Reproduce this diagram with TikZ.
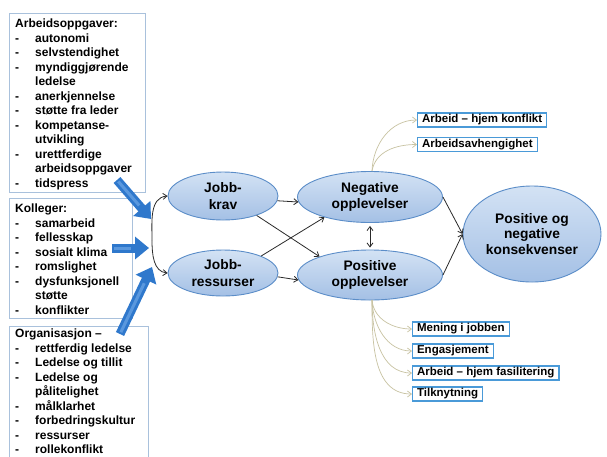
\documentclass[tikz,border=0pt]{standalone}
\usepackage{fontspec}
\setmainfont{Liberation Sans}
\usetikzlibrary{shapes.geometric,arrows.meta}
\definecolor{ellfillA}{HTML}{D3E2F4}
\definecolor{ellfillB}{HTML}{A4C0E5}
\definecolor{elldraw}{HTML}{5B8DC8}
\definecolor{boxdraw}{HTML}{A9C1DC}
\definecolor{rboxdraw}{HTML}{4A9AD8}
\definecolor{bluearrow}{HTML}{2F78CC}
\definecolor{bluearrowlight}{HTML}{5A98DE}
\definecolor{beigeline}{HTML}{C8C3A2}
\definecolor{darkline}{HTML}{2A2A2A}
\begin{document}
\begin{tikzpicture}[x=1pt,y=-1pt,
  ell/.style={ellipse, draw=elldraw, line width=0.9pt, top color=ellfillA, bottom color=ellfillB,
    inner sep=0pt, align=center, font=\fontsize{13.8}{16.5}\selectfont\bfseries},
  lbox/.style={draw=boxdraw, line width=0.9pt, anchor=north west, inner sep=0pt},
  ltext/.style={anchor=north west, inner sep=0pt, font=\fontsize{12}{14.5}\selectfont\bfseries},
  rbox/.style={draw=rboxdraw, line width=1.1pt, anchor=west, inner xsep=4.5pt, inner ysep=0pt,
    minimum height=14pt, font=\fontsize{11.5}{13}\selectfont\bfseries},
  conn/.style={draw=darkline, line width=0.8pt, -{Straight Barb[length=4pt,width=6pt]}},
  biconn/.style={draw=darkline, line width=0.8pt, {Straight Barb[length=4pt,width=6pt]}-{Straight Barb[length=4pt,width=6pt]}},
  soft/.style={draw=beigeline, line width=0.7pt, -{Straight Barb[length=4pt,width=6pt]}},
  bigarrow/.style={draw=bluearrow, line width=9pt, -{Triangle[length=14pt,width=22pt]}},
  bighl/.style={draw=bluearrowlight, line width=3pt},
]
\clip (0,0) rectangle (607,456);
\fill[white] (0,0) rectangle (607,456);

% left boxes
\node[lbox, minimum width=136pt, minimum height=179pt] (b1) at (9,13) {};
\node[lbox, minimum width=123pt, minimum height=120pt] (b2) at (9,198) {};
\node[lbox, minimum width=139pt, minimum height=150pt] (b3) at (9,326) {};

\node[ltext] (t1) at (15,17.5) {\begin{tabular}{@{}p{20pt}@{}l@{}}
\multicolumn{2}{@{}l@{}}{Arbeidsoppgaver:}\\
- & autonomi\\
- & selvstendighet\\
- & myndiggjørende\\
  & ledelse\\
- & anerkjennelse\\
- & støtte fra leder\\
- & kompetanse-\\
  & utvikling\\
- & urettferdige\\
  & arbeidsoppgaver\\
- & tidspress
\end{tabular}};

\node[ltext] (t2) at (15,202.5) {\begin{tabular}{@{}p{20pt}@{}l@{}}
\multicolumn{2}{@{}l@{}}{Kolleger:}\\
- & samarbeid\\
- & fellesskap\\
- & sosialt klima\\
- & romslighet\\
- & dysfunksjonell\\
  & støtte\\
- & konflikter
\end{tabular}};

\node[ltext] (t3) at (15,327.5) {\begin{tabular}{@{}p{20pt}@{}l@{}}
\multicolumn{2}{@{}l@{}}{Organisasjon --}\\
- & rettferdig ledelse\\
- & Ledelse og tillit\\
- & Ledelse og\\
  & pålitelighet\\
- & målklarhet\\
- & forbedringskultur\\
- & ressurser\\
- & rollekonflikt
\end{tabular}};

% ellipses
\node[ell, minimum width=110pt, minimum height=48pt] (krav) at (223,196) {Jobb-\\krav};
\node[ell, minimum width=110pt, minimum height=46pt] (ress) at (223,273) {Jobb-\\ressurser};
\node[ell, minimum width=145pt, minimum height=51pt] (neg) at (370,197) {Negative\\opplevelser};
\node[ell, minimum width=145pt, minimum height=50pt] (pos) at (370,275) {Positive\\opplevelser};
\node[ell, minimum width=138pt, minimum height=96pt, font=\fontsize{13.8}{15.5}\selectfont\bfseries] (kons) at (532,234) {Positive og\\negative\\konsekvenser};

% right boxes
\node[rbox] (r1) at (417,120) {Arbeid – hjem konflikt};
\node[rbox] (r2) at (417,144.5) {Arbeidsavhengighet};
\node[rbox] (r3) at (412,329) {Mening i jobben};
\node[rbox] (r4) at (412,351) {Engasjement};
\node[rbox] (r5) at (412,373) {Arbeid – hjem fasilitering};
\node[rbox] (r6) at (412,394) {Tilknytning};

% blue block arrows
\coordinate (a1s) at (117,180); \coordinate (a1e) at (151,219);
\coordinate (a2s) at (112,248); \coordinate (a2e) at (149,248);
\coordinate (a3s) at (120,334); \coordinate (a3e) at (152,267);
\draw[bigarrow] (a1s) -- (a1e);
\draw[bigarrow] (a2s) -- (a2e);
\draw[bigarrow] (a3s) -- (a3e);
\draw[bighl, shorten >=18pt, shorten <=2pt] (a1s) -- (a1e);
\draw[bighl, shorten >=18pt, shorten <=2pt] (a2s) -- (a2e);
\draw[bighl, shorten >=18pt, shorten <=2pt] (a3s) -- (a3e);

% bracket curve
\coordinate (m) at (152,240);
\draw[conn] (m) to[out=90,in=185] (krav.west);
\draw[conn] (m) to[out=-90,in=175] (ress.west);

% connectors between ellipses
\draw[conn] (krav.-5) -- (neg.184);
\draw[conn] (ress.-4) -- (pos.184);
\draw[conn] (krav.-30) -- (pos.160);
\draw[conn] (ress.24) -- (neg.-156);
\draw[biconn, shorten <=3pt, shorten >=2pt] (neg.south) -- (pos.north);
\draw[conn] (neg.east) -- (kons.west);
\draw[conn] (pos.east) -- (kons.west);

% soft curves
\coordinate (ntop) at (372,171);
\coordinate (pbot) at (372,300);
\draw[soft] (ntop) to[out=88,in=180] (r1.west);
\draw[soft] (ntop) to[out=80,in=180] (r2.west);
\draw[soft] (pbot) to[out=-85,in=180] (r3.west);
\draw[soft] (pbot) to[out=-88,in=180] (r4.west);
\draw[soft] (pbot) to[out=-90,in=180] (r5.west);
\draw[soft] (pbot) to[out=-90,in=180] (r6.west);
\end{tikzpicture}
\end{document}
